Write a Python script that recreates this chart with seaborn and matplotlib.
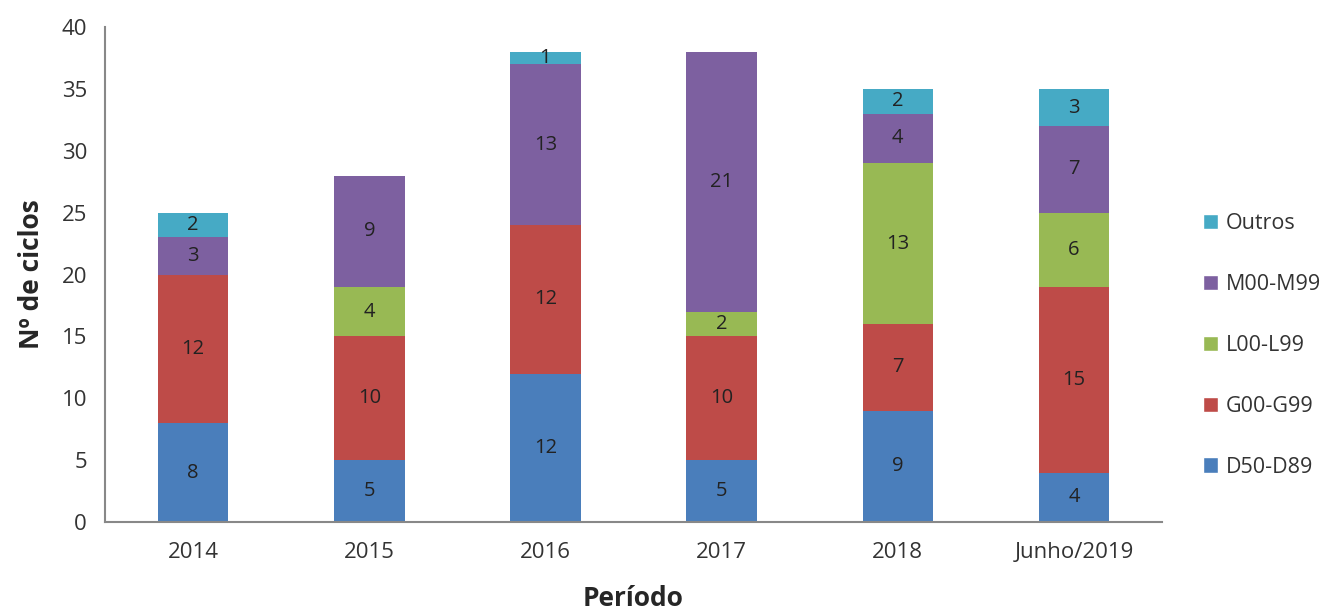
import numpy as np
import pandas as pd
import matplotlib
matplotlib.use("Agg")
import matplotlib.pyplot as plt
import seaborn as sns
from matplotlib.patches import Patch

# data
periodos = ["2014", "2015", "2016", "2017", "2018", "Junho/2019"]
series = ["D50-D89", "G00-G99", "L00-L99", "M00-M99", "Outros"]
d50_d89 = [8, 5, 12, 5, 9, 4]
g00_g99 = [12, 10, 12, 10, 7, 15]
l00_l99 = [0, 4, 0, 2, 13, 6]
m00_m99 = [3, 9, 13, 21, 4, 7]
outros = [2, 0, 1, 0, 2, 3]

cores = ["#4a7ebb", "#be4b48", "#98b954", "#7d60a0", "#46aac5"]

sns.set_style("white")
plt.rcParams["font.family"] = ["Open Sans", "DejaVu Sans"]

valores = np.array([d50_d89, g00_g99, l00_l99, m00_m99, outros])
acum = valores.cumsum(axis=0)

fig = plt.figure(figsize=(13.38, 6.15), dpi=100)
ax = fig.add_axes([0.0785, 0.151, 0.79, 0.805])

# draw cumulative totals, top layer first, so each segment shows its own colour
for i in range(len(series) - 1, -1, -1):
    df = pd.DataFrame({"periodo": periodos, "total": acum[i]})
    sns.barplot(data=df, x="periodo", y="total", color=cores[i], width=0.4,
                saturation=1, ax=ax, linewidth=0)

# segment labels
for i in range(len(series)):
    base = acum[i] - valores[i]
    for j, v in enumerate(valores[i]):
        if v > 0:
            ax.text(j, base[j] + v / 2, str(v), ha="center", va="center",
                    fontsize=14.5, color="#222222")

ax.set_ylim(0, 40)
ax.set_xlim(-0.5, 5.5)
ax.set_yticks(range(0, 41, 5))
ax.set_xticks(range(len(periodos)))
ax.set_xticklabels(periodos)

# Excel-style category ticks between bars
ax.set_xticks(np.arange(-0.5, 6, 1), minor=True)
ax.tick_params(axis="x", which="major", length=0, pad=14, labelsize=16, colors="#333333")
ax.tick_params(axis="x", which="minor", length=7, width=1.5, color="#888888", direction="out")
ax.tick_params(axis="y", length=7, width=1.5, color="#888888", direction="out",
               labelsize=16, labelcolor="#333333", pad=6)

for s in ["top", "right"]:
    ax.spines[s].set_visible(False)
for s in ["left", "bottom"]:
    ax.spines[s].set_color("#888888")
    ax.spines[s].set_linewidth(1.5)

ax.set_xlabel("Período", fontsize=19, fontweight="bold", labelpad=16)
ax.set_ylabel("Nº de ciclos", fontsize=19, fontweight="bold", labelpad=12)

handles = [Patch(facecolor=cores[i], label=series[i]) for i in range(len(series) - 1, -1, -1)]
ax.legend(handles=handles, loc="center left", bbox_to_anchor=(1.02, 0.357), frameon=False,
          fontsize=15.5, handlelength=0.7, handleheight=0.7, handletextpad=0.4,
          labelspacing=1.85, labelcolor="#333333")

fig.savefig("out.png", dpi=100)
